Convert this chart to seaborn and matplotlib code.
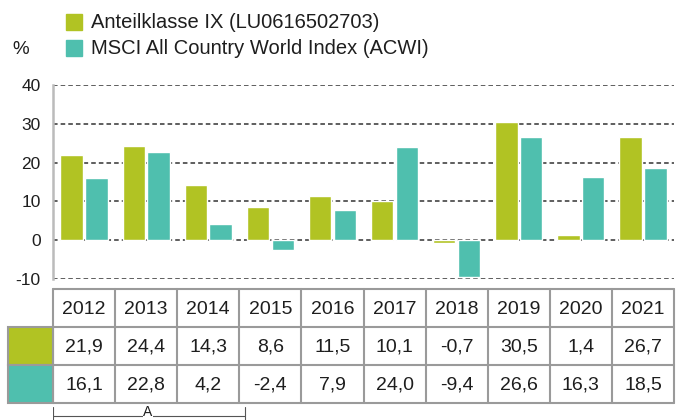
import numpy as np
import pandas as pd
import matplotlib
matplotlib.use("Agg")
import matplotlib.pyplot as plt
from matplotlib.patches import Rectangle
import seaborn as sns

years = ["2012", "2013", "2014", "2015", "2016", "2017", "2018", "2019", "2020", "2021"]
fund = [21.9, 24.4, 14.3, 8.6, 11.5, 10.1, -0.7, 30.5, 1.4, 26.7]
acwi = [16.1, 22.8, 4.2, -2.4, 7.9, 24.0, -9.4, 26.6, 16.3, 18.5]
series_names = ["Anteilklasse IX (LU0616502703)", "MSCI All Country World Index (ACWI)"]
colors = ["#B1C323", "#4FBFAE"]
y_ticks = [-10, 0, 10, 20, 30, 40]

sns.set_style("white")
plt.rcParams["font.family"] = ["Liberation Sans", "DejaVu Sans"]

df = pd.DataFrame({
    "year": years * 2,
    "value": fund + acwi,
    "series": [series_names[0]] * len(years) + [series_names[1]] * len(years),
})

W, H = 678, 420
fig = plt.figure(figsize=(W / 100, H / 100), dpi=100)
txt = "#1E1E1E"

# bar chart axes (pixel layout)
x0, x1 = 53, 674
y_top, y_bot = 85, 279
ax = fig.add_axes([x0 / W, 1 - y_bot / H, (x1 - x0) / W, (y_bot - y_top) / H])
sns.barplot(data=df, x="year", y="value", hue="series", palette=colors,
            width=0.8, gap=0.1, saturation=1, legend=False, ax=ax)
ax.set_xlim(-0.5, len(years) - 0.5)
ax.set_ylim(-10, 40)
ax.set_yticks(y_ticks)
ax.set_yticklabels([str(t) for t in y_ticks], fontsize=12.5, color=txt)
ax.set_xticks([])
ax.set_xlabel("")
ax.set_ylabel("")
ax.tick_params(axis="y", length=0, pad=9)
for t in y_ticks:
    ax.axhline(t, color="#333333", lw=1.1, ls=(0, (3, 2)), zorder=0)
for s in ["top", "right", "bottom"]:
    ax.spines[s].set_visible(False)
ax.spines["left"].set_color("#BBBBBB")
ax.spines["left"].set_linewidth(1.8)

# legend
for i, name in enumerate(series_names):
    ytop = 14 + i * 26
    fig.patches.append(Rectangle((66 / W, 1 - (ytop + 16) / H), 16 / W, 16 / H,
                                 transform=fig.transFigure, color=colors[i]))
    fig.text(91 / W, 1 - (ytop + 8) / H, name, fontsize=14.5, va="center",
             ha="left", color=txt)
fig.text(12 / W, 1 - 49 / H, "%", fontsize=13.5, va="center", ha="left", color=txt)

# data table
t_top, t_bot = 289, 403
tab = fig.add_axes([x0 / W, 1 - t_bot / H, (x1 - x0) / W, (t_bot - t_top) / H])
tab.set_xlim(-0.5, len(years) - 0.5)
tab.set_ylim(0, 3)
tab.axis("off")
lc = "#9A9A9A"
cell_w = (53 - 8) / ((x1 - x0) / len(years))
for r, (vals, col) in enumerate([(fund, colors[0]), (acwi, colors[1])]):
    yb = 1 - r
    tab.add_patch(Rectangle((-0.5 - cell_w, yb), cell_w, 1, facecolor=col,
                            edgecolor=lc, lw=1.5, clip_on=False))
    for i, v in enumerate(vals):
        tab.text(i, yb + 0.47, f"{v:.1f}".replace(".", ","), ha="center",
                 va="center", fontsize=14, color=txt)
for i, y in enumerate(years):
    tab.text(i, 2.47, y, ha="center", va="center", fontsize=14, color=txt)
for yy in [0, 1, 2, 3]:
    tab.plot([-0.5, len(years) - 0.5], [yy, yy], color=lc, lw=1.5, clip_on=False)
for xx in np.arange(-0.5, len(years), 1.0):
    tab.plot([xx, xx], [0, 3], color=lc, lw=1.5, clip_on=False)

# bracket "A" below the first three years
br = fig.add_axes([x0 / W, 0, (x1 - x0) / W, 1 - t_bot / H])
br.set_xlim(-0.5, len(years) - 0.5)
br.set_ylim(0, 17)
br.axis("off")
br.plot([-0.5, 2.59], [4.5, 4.5], color="#555555", lw=0.8)
br.plot([-0.5, -0.5], [0, 13], color="#555555", lw=0.8)
br.plot([2.59, 2.59], [0, 13], color="#555555", lw=0.8)
br.text(1.03, 0.8, "A", ha="center", va="bottom", fontsize=10, color=txt,
        bbox=dict(facecolor="white", edgecolor="none", pad=0.5))

fig.savefig("out.png", dpi=100)
